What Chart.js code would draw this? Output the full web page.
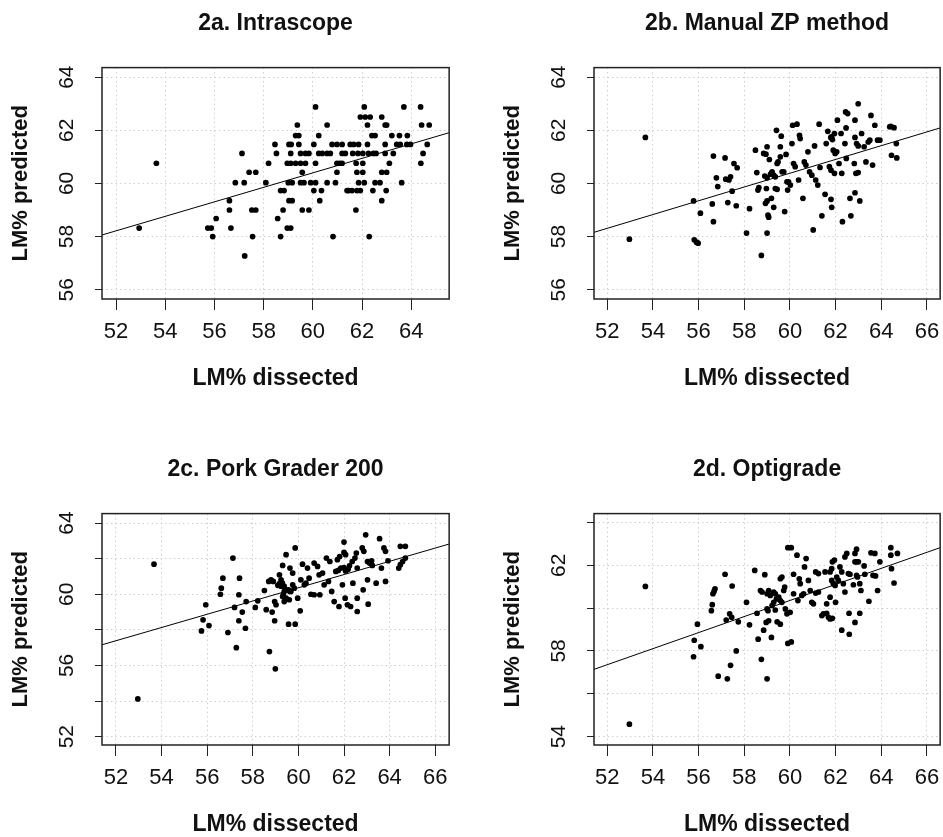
<!DOCTYPE html>
<html>
<head>
<meta charset="utf-8">
<title>LM% predicted vs LM% dissected</title>
<script src="https://cdn.jsdelivr.net/npm/chart.js@4.4.1/dist/chart.umd.min.js"></script>
<style>
  body { margin: 0; background: #fff; }
  #wrap { position: relative; width: 943px; height: 837px; overflow: hidden; }
  canvas { position: absolute; }
</style>
</head>
<body>
<div id="wrap">
  <canvas id="c2a" width="452" height="392" style="left:0;top:0"></canvas>
  <canvas id="c2b" width="451" height="392" style="left:492px;top:0"></canvas>
  <canvas id="c2c" width="452" height="392" style="left:0;top:446px"></canvas>
  <canvas id="c2d" width="451" height="392" style="left:492px;top:446px"></canvas>
</div>
<script>
/* =========================
   DATA  [LM% dissected, LM% predicted]
========================= */
const intrascope = [
  [60.11,62.88],[62.09,62.88],[63.70,62.88],[64.38,62.88],
  [61.93,62.5],[62.13,62.5],[62.33,62.5],[62.80,62.5],
  [59.37,62.2],[60.58,62.2],[62.22,62.2],[62.94,62.2],[63.00,62.2],[64.42,62.2],[64.73,62.2],
  [59.30,61.8],[59.43,61.8],[60.24,61.8],[62.40,61.8],[62.53,61.8],[63.21,61.8],[63.52,61.8],[63.84,61.8],
  [58.46,61.47],[59.03,61.47],[59.12,61.47],[59.43,61.47],[60.04,61.47],[60.78,61.47],[60.98,61.47],[61.19,61.47],
  [61.52,61.47],[61.66,61.47],[61.86,61.47],[62.22,61.47],[62.94,61.47],[63.41,61.47],[63.55,61.47],[63.82,61.47],
  [63.97,61.47],[64.65,61.47],
  [57.12,61.13],[58.52,61.13],[59.10,61.13],[59.50,61.13],[59.70,61.13],[59.84,61.13],[60.24,61.13],[60.38,61.13],
  [60.58,61.13],[60.71,61.13],[61.19,61.13],[61.32,61.13],[61.62,61.13],[61.83,61.13],[62.03,61.13],[62.26,61.13],
  [62.46,61.13],[62.57,61.13],[62.94,61.13],[63.27,61.13],[64.48,61.13],
  [53.64,60.76],[58.20,60.76],[58.96,60.76],[59.10,60.76],[59.30,60.76],[59.50,60.76],[59.70,60.76],[60.11,60.76],
  [60.98,60.76],[61.09,60.76],[61.19,60.76],[61.76,60.76],[62.03,60.76],[63.11,60.76],[64.39,60.76],
  [57.41,60.42],[57.68,60.42],[59.57,60.42],[60.98,60.42],[61.79,60.42],[62.03,60.42],[62.80,60.42],[63.00,60.42],
  [56.85,60.03],[57.21,60.03],[58.09,60.03],[59.00,60.03],[59.16,60.03],[59.50,60.03],[59.64,60.03],[59.91,60.03],
  [60.11,60.03],[60.58,60.03],[60.92,60.03],[61.86,60.03],[62.09,60.03],[62.53,60.03],[62.73,60.03],[63.61,60.03],
  [58.69,59.73],[58.83,59.73],[60.04,59.73],[60.35,59.73],[61.39,59.73],[61.45,59.73],[61.59,59.73],[61.79,59.73],
  [61.93,59.73],[62.44,59.73],[62.98,59.73],
  [56.61,59.35],[59.03,59.35],[59.16,59.35],[60.28,59.35],[62.80,59.35],
  [56.61,59.0],[57.52,59.0],[57.68,59.0],[58.79,59.0],[59.57,59.0],[59.84,59.0],[61.75,59.0],
  [56.07,58.68],[58.57,58.68],
  [52.94,58.32],[55.73,58.32],[55.87,58.32],[56.67,58.32],[58.96,58.32],[59.10,58.32],
  [55.93,58.0],[57.55,58.0],[58.69,58.0],[60.82,58.0],[62.29,58.0],
  [57.23,57.27]
];

const manualZP = [
  [53.67,61.73],[52.97,57.9],[55.78,59.34],[55.81,57.88],[55.91,57.79],[55.98,57.75],[56.08,58.88],[56.6,59.23],
  [56.65,58.56],[56.65,61.03],[56.78,60.21],[56.84,59.88],[57.16,60.96],[57.19,60.16],[57.33,60.13],[57.40,60.25],
  [57.28,59.28],[57.47,59.71],[57.55,60.75],[57.69,60.59],[57.65,59.16],[58.10,58.13],[58.23,59.05],[58.49,61.25],
  [58.55,60.41],[58.6,59.75],[58.64,59.84],[58.75,57.29],[58.85,61.13],[58.95,61.10],[58.9,60.28],[59.0,60.21],
  [58.93,59.25],[59.0,59.34],[58.97,59.81],[59.0,58.13],[59.04,58.81],[59.07,58.73],[59.0,61.38],[59.1,60.9],
  [59.15,60.35],[59.22,60.44],[59.29,60.31],[59.36,60.25],[59.19,59.44],[59.29,59.1],[59.36,59.81],[59.44,59.78],
  [59.41,62.0],[59.44,60.75],[59.48,60.81],[59.58,61.38],[59.58,61.0],[59.62,61.78],[59.66,60.44],[59.73,60.44],
  [59.77,58.94],[59.83,61.09],[59.87,60.06],[59.94,60.06],[60.02,59.94],[59.9,59.75],[60.09,61.5],[60.12,62.19],
  [60.31,62.23],[60.16,60.75],[60.23,60.63],[60.42,61.81],[60.45,61.69],[60.38,60.13],[60.57,59.44],[60.63,60.81],
  [60.70,60.69],[60.79,61.19],[60.86,60.44],[60.96,60.31],[61.02,58.25],[61.08,61.41],[61.13,60.13],[61.22,59.94],
  [61.28,62.23],[61.32,60.6],[61.4,58.78],[61.54,59.59],[61.59,61.5],[61.66,61.96],[61.73,60.63],[61.8,60.5],
  [61.8,59.4],[61.83,59.1],[61.83,61.75],[61.95,61.88],[61.79,61.73],[61.86,61.65],[61.9,61.25],[61.98,61.13],
  [62.05,61.19],[61.95,60.38],[62.08,62.38],[62.15,60.75],[62.24,61.88],[62.27,60.38],[62.3,58.56],[62.41,61.5],
  [62.44,62.69],[62.53,62.63],[62.46,62.09],[62.47,60.94],[62.63,59.44],[62.67,58.78],[62.82,60.75],[62.85,62.38],
  [62.85,59.65],[62.85,61.73],[62.92,61.5],[62.99,61.41],[62.89,60.38],[62.99,60.41],[62.99,63.0],[63.06,59.34],
  [63.14,61.88],[63.25,61.38],[63.33,60.81],[63.43,61.56],[63.5,61.63],[63.55,62.56],[63.62,60.69],[63.72,62.19],
  [63.84,61.63],[63.94,61.63],[64.37,62.13],[64.42,62.15],[64.56,62.1],[64.45,61.06],[64.66,61.5],[64.68,60.96]
];

const porkGrader = [
  [52.96,54.12],[53.67,61.69],[55.75,57.94],[55.82,58.56],[55.94,59.41],[56.08,58.24],[56.58,60.0],[56.62,60.34],
  [56.69,60.9],[56.91,57.85],[57.13,62.03],[57.2,59.26],[57.28,57.0],[57.39,59.97],[57.42,60.9],[57.39,58.51],
  [57.54,59.0],[57.68,58.09],[57.71,59.59],[58.11,59.26],[58.22,59.63],[58.51,60.21],[58.59,59.13],[58.73,56.78],
  [58.7,60.72],[58.8,60.81],[58.9,60.72],[58.85,59.0],[58.96,58.51],[58.99,55.81],[58.96,59.59],[59.02,59.41],
  [59.1,60.5],[59.17,60.6],[59.24,60.45],[59.3,60.62],[59.17,61.09],[59.24,60.81],[59.31,61.62],[59.34,59.97],
  [59.38,59.59],[59.46,62.22],[59.49,60.25],[59.57,60.25],[59.63,60.16],[59.57,58.32],[59.86,58.32],[59.63,61.47],
  [59.75,61.19],[59.75,60.53],[59.82,60.34],[59.86,62.6],[59.97,59.78],[60.08,59.07],[60.11,60.81],[60.18,61.69],
  [59.38,60.44],[59.67,60.16],[59.31,59.87],[59.46,59.78],[59.6,59.69],[59.38,60.16],
  [60.26,60.53],[60.33,60.62],[60.4,61.47],[60.47,60.9],[60.55,60.0],[60.69,59.97],[60.94,59.97],[60.69,61.75],
  [60.84,61.56],[60.91,61.09],[61.06,61.19],[61.13,60.53],[61.23,62.03],[61.38,61.84],[61.32,60.72],[61.46,60.16],
  [61.57,59.59],[61.64,61.28],[61.71,61.94],[61.81,62.12],[61.75,61.34],[61.86,61.47],[61.78,59.31],[61.93,60.53],
  [62.0,62.93],[62.0,62.35],[62.07,62.22],[62.0,61.5],[62.07,61.31],[62.18,61.4],[62.24,61.6],[62.05,59.78],
  [62.15,59.41],[62.29,59.31],[62.36,61.84],[62.48,62.03],[62.54,62.31],[62.39,60.62],[62.58,59.78],[62.58,59.03],
  [62.58,61.47],[62.8,62.6],[62.87,62.41],[62.84,60.25],[62.95,63.34],[63.03,61.84],[63.12,61.75],[63.21,61.88],
  [63.06,59.44],[63.03,60.81],[63.24,61.62],[63.41,60.62],[63.56,63.12],[63.64,61.47],[63.75,62.6],[63.82,62.41],
  [63.82,60.72],[63.93,61.88],[64.4,61.47],[64.47,61.66],[64.47,62.69],[64.69,62.69],[64.57,61.84],[64.69,62.03]
];

const optigrade = [
  [52.97,54.58],[53.67,61.01],[55.78,57.73],[55.81,58.5],[55.95,59.25],[56.1,58.2],[56.56,59.88],[56.6,60.16],
  [56.63,60.67],[56.68,60.79],[56.72,60.9],[56.86,56.82],[57.16,61.58],[57.26,56.7],[57.21,59.44],[57.36,59.73],
  [57.45,59.57],[57.4,57.33],[57.47,61.03],[57.65,58.0],[57.74,59.36],[58.1,60.27],[58.23,59.22],[58.46,61.76],
  [58.56,59.76],[58.61,58.55],[58.75,57.61],[58.71,60.82],[58.78,60.75],[58.85,58.97],[58.9,61.56],[58.96,59.33],
  [59.0,56.7],[59.0,60.67],[59.07,60.82],[59.14,60.59],[59.0,59.96],[59.04,59.88],[59.07,59.41],[59.19,58.63],
  [59.22,60.12],[59.29,60.27],[59.29,60.75],[59.36,60.67],[59.41,60.43],[59.36,59.91],[59.44,59.36],[59.58,59.25],
  [59.51,60.51],[59.58,60.35],[59.65,60.27],[59.58,61.37],[59.65,61.45],[59.73,60.82],[59.77,60.98],[59.8,59.96],
  [59.87,59.73],[59.91,62.82],[60.06,62.82],[59.91,58.35],[60.06,58.42],[60.01,59.8],[60.16,61.58],[60.16,60.67],
  [60.31,62.47],[60.35,60.35],[60.41,61.37],[60.45,61.14],[60.52,60.59],[60.6,60.67],[60.64,61.92],[60.71,62.31],
  [60.81,61.29],[60.89,60.82],[60.96,60.27],[61.03,60.2],[61.13,60.7],[61.25,60.75],[61.13,61.69],[61.25,61.61],
  [61.4,59.65],[61.47,59.73],[61.54,61.69],[61.61,60.2],[61.61,59.76],[61.69,59.57],[61.76,59.49],[61.86,59.52],
  [61.76,60.51],[61.76,61.69],[61.83,61.84],[61.86,62.16],[61.95,62.24],[61.83,61.29],[61.9,61.14],[61.98,61.06],
  [62.0,60.27],[62.05,61.45],[62.12,61.29],[62.19,61.92],[62.27,61.69],[62.27,58.97],[62.34,61.14],[62.41,60.75],
  [62.41,62.39],[62.49,62.55],[62.56,61.61],[62.63,61.58],[62.59,59.76],[62.6,58.78],[62.78,61.09],[62.85,62.55],
  [62.92,62.75],[62.85,62.16],[62.92,62.16],[63.0,62.16],[62.85,59.33],[62.92,61.53],[62.96,61.45],[63.06,61.14],
  [63.11,60.82],[63.06,59.76],[63.25,61.97],[63.28,61.58],[63.46,60.32],[63.55,62.58],[63.72,62.55],[63.64,61.53],
  [63.75,61.5],[63.84,60.82],[63.94,62.16],[64.42,62.82],[64.42,62.47],[64.45,61.84],[64.56,61.17],[64.71,62.55]
];

/* fitted regression lines (end points at the plot edges) */
const intrascopeFit = [[51.43,58.06],[65.54,61.91]];
const manualZPFit   = [[51.42,58.16],[66.58,62.09]];
const porkGraderFit = [[51.39,57.16],[66.61,62.82]];
const optigradeFit  = [[51.42,57.14],[66.58,62.82]];

/* axis limits and ticks */
const xRangeA = [51.43, 65.54];
const xRangeB = [51.42, 66.58];
const xRangeC = [51.39, 66.61];
const xRangeD = [51.42, 66.58];
const yRangeA = [55.65, 64.36];
const yRangeB = [55.65, 64.36];
const yRangeC = [51.53, 64.53];
const yRangeD = [53.61, 64.41];

const xTicksShort = [52, 54, 56, 58, 60, 62, 64];
const xTicksLong  = [52, 54, 56, 58, 60, 62, 64, 66];
const yTicksAB = [56, 58, 60, 62, 64];
const yTicksC  = [52, 54, 56, 58, 60, 62, 64];
const yTicksD  = [54, 56, 58, 60, 62, 64];
const yLabelsC = [52, 56, 60, 64];
const yLabelsD = [54, 58, 62];

/* =========================
   STYLE
========================= */
const FONT = 'Liberation Sans, Arial, Helvetica, sans-serif';
const INK = '#111';
const GRID = '#cfcfcf';

Chart.defaults.font.family = FONT;
Chart.defaults.color = INK;

/* full frame round the plot area, like R's box() */
const boxPlugin = {
    id: 'box',
    afterDraw(chart){
        const a = chart.chartArea;
        const ctx = chart.ctx;
        ctx.save();
        ctx.strokeStyle = '#222';
        ctx.lineWidth = 1.5;
        ctx.strokeRect(a.left, a.top, a.right - a.left, a.bottom - a.top);
        ctx.restore();
    }
};

/* =========================
   PANEL BUILDER
========================= */
function makePanel(id, title, pts, fit, xRange, yRange, xTicks, yTicks, yLabels){

    new Chart(document.getElementById(id), {
        type: 'scatter',
        data: {
            datasets: [
                {
                    data: pts.map(p => ({x: p[0], y: p[1]})),
                    pointRadius: 2.85,
                    pointHoverRadius: 2.85,
                    backgroundColor: '#000',
                    borderWidth: 0
                },
                {
                    data: fit.map(p => ({x: p[0], y: p[1]})),
                    showLine: true,
                    pointRadius: 0,
                    borderColor: '#000',
                    borderWidth: 1
                }
            ]
        },
        options: {
            responsive: false,
            animation: false,
            events: [],
            layout: { padding: { left: 0, right: 1, top: 0, bottom: 0 } },
            plugins: {
                legend: { display: false },
                tooltip: { enabled: false },
                title: {
                    display: true,
                    text: title,
                    fullSize: false,
                    color: INK,
                    font: { size: 23, weight: 'bold' },
                    padding: { top: 10, bottom: 30 }
                }
            },
            scales: {
                x: {
                    type: 'linear',
                    min: xRange[0],
                    max: xRange[1],
                    afterBuildTicks: s => { s.ticks = xTicks.map(v => ({value: v})); },
                    afterFit: s => { s.height = 93; s.paddingLeft = 0; s.paddingRight = 0; },
                    ticks: {
                        autoSkip: false,
                        maxRotation: 0,
                        padding: 9,
                        color: INK,
                        font: { size: 22 },
                        callback: v => String(v)
                    },
                    grid: { color: GRID, lineWidth: 1, tickColor: '#222', tickLength: 11, tickWidth: 1 },
                    border: { display: false, dash: [1.5, 3] },
                    title: {
                        display: true,
                        text: 'LM% dissected',
                        color: INK,
                        font: { size: 23, weight: 'bold' },
                        padding: { top: 0, bottom: 0 }
                    }
                },
                y: {
                    type: 'linear',
                    min: yRange[0],
                    max: yRange[1],
                    afterBuildTicks: s => { s.ticks = yTicks.map(v => ({value: v})); },
                    afterFit: s => { s.width = 102; s.paddingTop = 0; s.paddingBottom = 0; },
                    ticks: {
                        autoSkip: false,
                        minRotation: 90,
                        maxRotation: 90,
                        crossAlign: 'center',
                        padding: 16,
                        color: INK,
                        font: { size: 21 },
                        callback: v => (yLabels.includes(v) ? String(v) : '')
                    },
                    grid: { color: GRID, lineWidth: 1, tickColor: '#222', tickLength: 7, tickWidth: 1 },
                    border: { display: false, dash: [1.5, 3] },
                    title: {
                        display: true,
                        text: 'LM% predicted',
                        color: INK,
                        font: { size: 22, weight: 'bold' },
                        padding: { top: 8, bottom: 0 }
                    }
                }
            }
        },
        plugins: [boxPlugin]
    });
}

/* =========================
   DRAW
========================= */
makePanel('c2a', '2a. Intrascope', intrascope, intrascopeFit, xRangeA, yRangeA, xTicksShort, yTicksAB, yTicksAB);
makePanel('c2b', '2b. Manual ZP method', manualZP, manualZPFit, xRangeB, yRangeB, xTicksLong, yTicksAB, yTicksAB);
makePanel('c2c', '2c. Pork Grader 200', porkGrader, porkGraderFit, xRangeC, yRangeC, xTicksLong, yTicksC, yLabelsC);
makePanel('c2d', '2d. Optigrade', optigrade, optigradeFit, xRangeD, yRangeD, xTicksLong, yTicksD, yLabelsD);
</script>
</body>
</html>
